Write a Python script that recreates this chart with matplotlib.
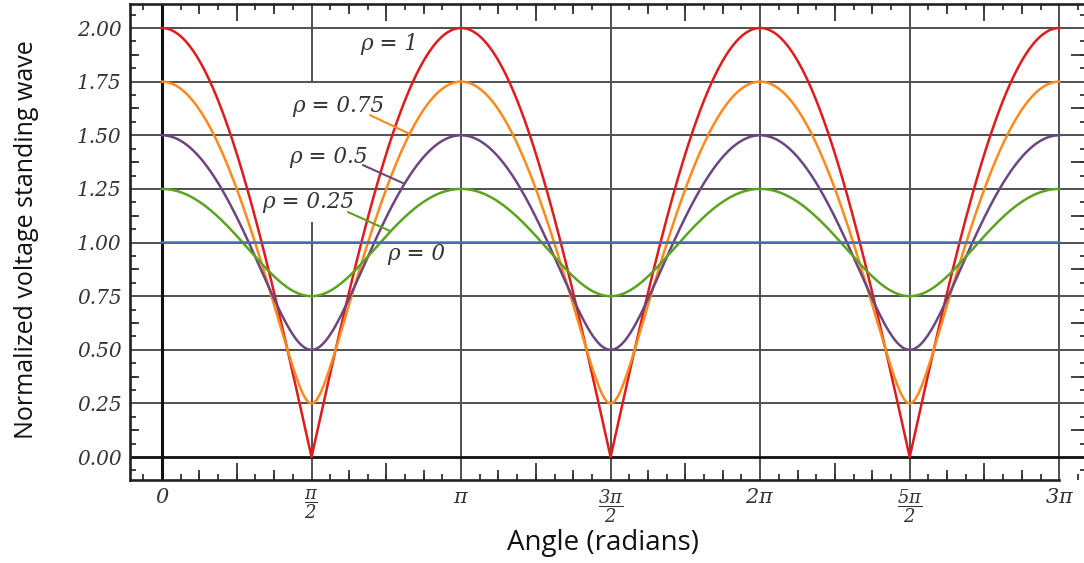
import numpy as np
import matplotlib
matplotlib.use("Agg")
import matplotlib.pyplot as plt
from matplotlib.ticker import MultipleLocator, FixedLocator

plt.rcParams['mathtext.fontset'] = 'custom'
plt.rcParams['mathtext.rm'] = 'DejaVu Serif:italic'
plt.rcParams['mathtext.it'] = 'DejaVu Serif:italic'
plt.rcParams['mathtext.bf'] = 'DejaVu Serif:italic:bold'

# ---- data ----
rho_values = [1.0, 0.75, 0.5, 0.25, 0.0]
rho_labels = ['ρ = 1', 'ρ = 0.75', 'ρ = 0.5', 'ρ = 0.25', 'ρ = 0']
colors = ['#e01b1b', '#ff8a1c', '#6b4680', '#5aa41f', '#4a6fa8']
x_tick_vals = [0, np.pi/2, np.pi, 3*np.pi/2, 2*np.pi, 5*np.pi/2, 3*np.pi]
x_tick_labels = [r'$0$', r'$\dfrac{\pi}{2}$', r'$\pi$', r'$\dfrac{3\pi}{2}$',
                 r'$2\pi$', r'$\dfrac{5\pi}{2}$', r'$3\pi$']
y_tick_vals = [0.0, 0.25, 0.5, 0.75, 1.0, 1.25, 1.5, 1.75, 2.0]
y_tick_labels = ['0.00', '0.25', '0.50', '0.75', '1.00', '1.25', '1.50', '1.75', '2.00']

theta = np.linspace(0, 3*np.pi, 3001)

W, H = 1084, 563
fig = plt.figure(figsize=(W/100, H/100), dpi=100)
ax = fig.add_axes([130/W, 83/H, 956/W, 476/H])
ax.set_xlim(-0.336, 9.706)
ax.set_ylim(-0.107, 2.112)

gc = '#505050'
# horizontal gridlines
for yv in y_tick_vals[1:]:
    ax.axhline(yv, color=gc, lw=1.4, zorder=1)
# vertical gridlines
ylo, yhi = ax.get_ylim()
for xv in x_tick_vals[1:]:
    if np.isclose(xv, np.pi/2):
        ax.vlines([xv, xv], [ylo, 1.745], [1.096, yhi], color=gc, lw=1.4, zorder=1)
    else:
        ax.axvline(xv, color=gc, lw=1.4, zorder=1)
ax.axhline(0, color='#111111', lw=2.0, zorder=1.5)
ax.axvline(0, color='#111111', lw=2.2, zorder=1.5)

for r, c in zip(rho_values, colors):
    v = np.sqrt(1 + r**2 + 2*r*np.cos(2*theta))
    ax.plot(theta, v, color=c, lw=1.8, zorder=3)

# labels
lab_pos = [(2.08, 1.925), (1.366, 1.636), (1.334, 1.399), (1.05, 1.189), (2.363, 0.946)]
leaders = [None, ((2.185, 1.594), (2.584, 1.510)), ((2.111, 1.361), (2.532, 1.277)),
           ((1.954, 1.142), (2.395, 1.054)), None]
for lab, (px, py), ld, c in zip(rho_labels, lab_pos, leaders, colors):
    ax.text(px, py, lab, fontsize=15.5, color='#333333', ha='left', va='center', zorder=4,
            family='DejaVu Serif', style='italic')
    if ld is not None:
        ax.annotate('', xy=ld[1], xytext=ld[0],
                    arrowprops=dict(arrowstyle='-', color=c, lw=1.5, shrinkA=0, shrinkB=0), zorder=4)

# spines
for s in ['left', 'top', 'bottom']:
    ax.spines[s].set_linewidth(1.9)
    ax.spines[s].set_color('#222222')
ax.spines['right'].set_visible(False)
ax.spines['bottom'].set_bounds(-0.336, 3*np.pi)

# ticks
ax.xaxis.set_major_locator(FixedLocator(x_tick_vals))
ax.set_xticklabels(x_tick_labels)
ax.xaxis.set_minor_locator(MultipleLocator(np.pi/16))
ax.yaxis.set_major_locator(FixedLocator(y_tick_vals))
ax.set_yticklabels(y_tick_labels, fontfamily='DejaVu Serif', fontstyle='italic')
ax.yaxis.set_minor_locator(MultipleLocator(1/16))
ax.tick_params(axis='x', which='major', length=0, pad=5, labelsize=15, labelcolor='#333333')
ax.tick_params(axis='y', which='major', length=0, pad=6, labelsize=14.5, labelcolor='#333333')
ax.tick_params(axis='x', which='minor', direction='in', length=4, width=1.3, top=True, bottom=True, color='#333333')
ax.tick_params(axis='y', which='minor', direction='in', length=4, width=1.3, left=True, right=True, color='#333333')
for t in ax.get_xticklabels():
    if 'frac' in t.get_text():
        t.set_fontsize(13)

def add_ticks(side, vals, length):
    if side in ('top', 'bottom'):
        sa = ax.secondary_xaxis(side)
        sa.set_xticks(vals)
    else:
        sa = ax.secondary_yaxis(side)
        sa.set_yticks(vals)
    sa.tick_params(direction='in', length=length, width=1.3, color='#333333',
                   labelbottom=False, labeltop=False, labelleft=False, labelright=False)
    for sp in sa.spines.values():
        sp.set_visible(False)

xs_mid = np.arange(1, 48, 2) * np.pi / 8
xs_mid = xs_mid[xs_mid <= 3*np.pi]
xs_long = np.arange(1, 12, 2) * np.pi / 4
xs_long = xs_long[xs_long <= 3*np.pi]
ys_mid = np.arange(1, 17, 2) / 8
for side in ('top', 'bottom'):
    add_ticks(side, list(xs_mid), 7.5)
    add_ticks(side, list(xs_long), 12)
add_ticks('left', list(ys_mid), 6.5)
add_ticks('right', list(ys_mid), 11)

fig.text(603/W, 1 - 543/H, 'Angle (radians)', fontsize=20, family='Open Sans',
         ha='center', va='center', color='#111111')
fig.text(27/W, 1 - 240/H, 'Normalized voltage standing wave', fontsize=18, family='Open Sans',
         ha='center', va='center', rotation=90, color='#111111')

fig.savefig('out.png', dpi=100)
